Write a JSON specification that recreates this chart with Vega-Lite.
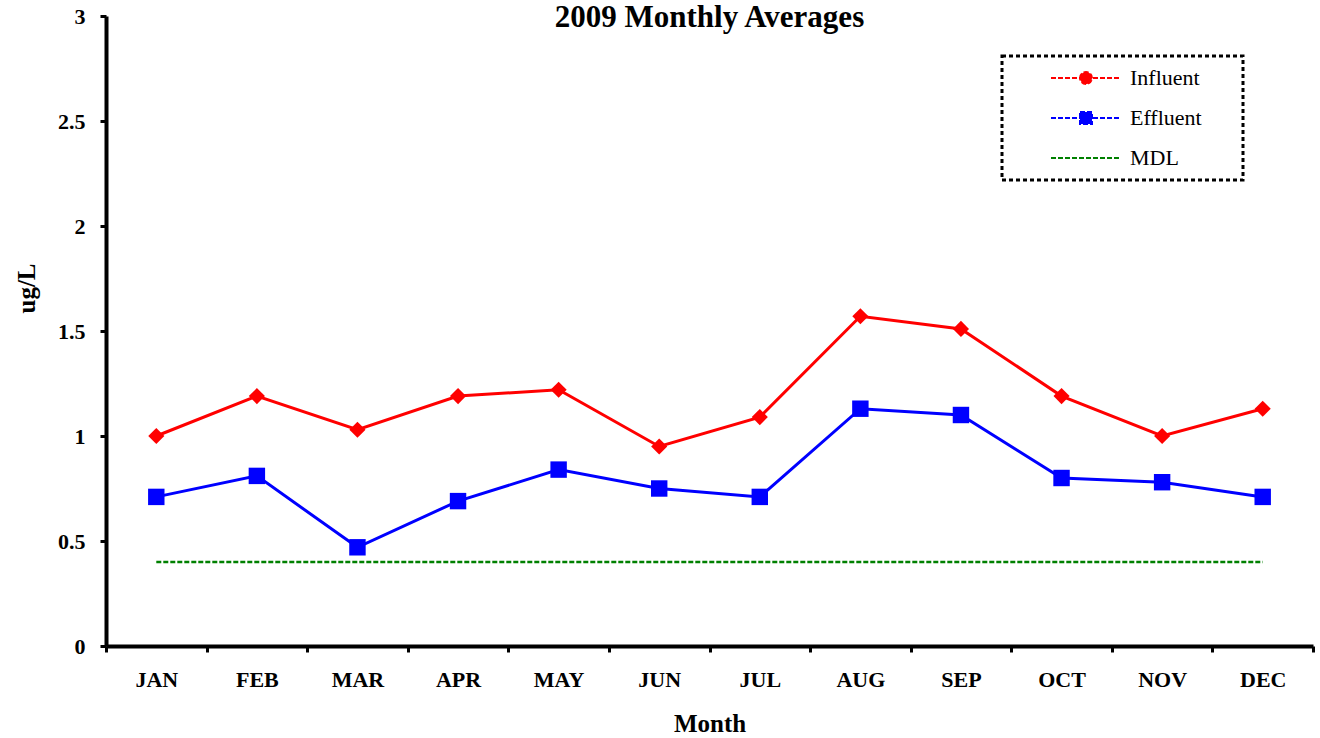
{
  "$schema": "https://vega.github.io/schema/vega-lite/v6.json",
  "autosize": "none",
  "width": 1207,
  "height": 630,
  "padding": {"left": 106, "top": 16, "right": 7, "bottom": 92},
  "background": "white",
  "config": {
    "view": {"stroke": null},
    "font": "Liberation Serif"
  },
  "title": {
    "text": "2009 Monthly Averages",
    "font": "Liberation Serif",
    "fontSize": 31,
    "fontWeight": "bold",
    "color": "black",
    "anchor": "middle",
    "offset": -29
  },
  "data": {
    "values": [
      {"month": "JAN", "series": "Influent", "value": 1.0},
      {"month": "FEB", "series": "Influent", "value": 1.19},
      {"month": "MAR", "series": "Influent", "value": 1.03},
      {"month": "APR", "series": "Influent", "value": 1.19},
      {"month": "MAY", "series": "Influent", "value": 1.22},
      {"month": "JUN", "series": "Influent", "value": 0.95},
      {"month": "JUL", "series": "Influent", "value": 1.09},
      {"month": "AUG", "series": "Influent", "value": 1.57},
      {"month": "SEP", "series": "Influent", "value": 1.51},
      {"month": "OCT", "series": "Influent", "value": 1.19},
      {"month": "NOV", "series": "Influent", "value": 1.0},
      {"month": "DEC", "series": "Influent", "value": 1.13},
      {"month": "JAN", "series": "Effluent", "value": 0.71},
      {"month": "FEB", "series": "Effluent", "value": 0.81},
      {"month": "MAR", "series": "Effluent", "value": 0.47},
      {"month": "APR", "series": "Effluent", "value": 0.69},
      {"month": "MAY", "series": "Effluent", "value": 0.84},
      {"month": "JUN", "series": "Effluent", "value": 0.75},
      {"month": "JUL", "series": "Effluent", "value": 0.71},
      {"month": "AUG", "series": "Effluent", "value": 1.13},
      {"month": "SEP", "series": "Effluent", "value": 1.10},
      {"month": "OCT", "series": "Effluent", "value": 0.80},
      {"month": "NOV", "series": "Effluent", "value": 0.78},
      {"month": "DEC", "series": "Effluent", "value": 0.71},
      {"month": "JAN", "series": "MDL", "value": 0.4},
      {"month": "FEB", "series": "MDL", "value": 0.4},
      {"month": "MAR", "series": "MDL", "value": 0.4},
      {"month": "APR", "series": "MDL", "value": 0.4},
      {"month": "MAY", "series": "MDL", "value": 0.4},
      {"month": "JUN", "series": "MDL", "value": 0.4},
      {"month": "JUL", "series": "MDL", "value": 0.4},
      {"month": "AUG", "series": "MDL", "value": 0.4},
      {"month": "SEP", "series": "MDL", "value": 0.4},
      {"month": "OCT", "series": "MDL", "value": 0.4},
      {"month": "NOV", "series": "MDL", "value": 0.4},
      {"month": "DEC", "series": "MDL", "value": 0.4}
    ]
  },
  "encoding": {
    "x": {
      "field": "month",
      "type": "nominal",
      "sort": ["JAN","FEB","MAR","APR","MAY","JUN","JUL","AUG","SEP","OCT","NOV","DEC"],
      "scale": {"paddingInner": 0, "paddingOuter": 0},
      "axis": {
        "title": "Month",
        "titleFont": "Liberation Serif",
        "titleFontSize": 25,
        "titleFontWeight": "bold",
        "titleColor": "black",
        "titleBaseline": "middle",
        "titleY": 77,
        "labelAngle": 0,
        "labelFont": "Liberation Serif",
        "labelFontSize": 22,
        "labelFontWeight": "bold",
        "labelColor": "black",
        "labelPadding": 27,
        "labelBaseline": "middle",
        "tickBand": "extent",
        "tickSize": 6,
        "tickWidth": 3,
        "tickColor": "black",
        "domainColor": "black",
        "domainWidth": 4,
        "grid": false
      }
    },
    "y": {
      "field": "value",
      "type": "quantitative",
      "scale": {"domain": [0, 3], "nice": false},
      "axis": {
        "title": "ug/L",
        "titleFont": "Liberation Serif",
        "titleFontSize": 25,
        "titleFontWeight": "bold",
        "titleColor": "black",
        "titleX": -80,
        "titleY": 272,
        "titleBaseline": "middle",
        "values": [0, 0.5, 1, 1.5, 2, 2.5, 3],
        "labelExpr": "toString(datum.value)",
        "labelFont": "Liberation Serif",
        "labelFontSize": 22,
        "labelFontWeight": "bold",
        "labelColor": "black",
        "labelPadding": 15,
        "tickSize": 6,
        "tickWidth": 3,
        "tickColor": "black",
        "domainColor": "black",
        "domainWidth": 4,
        "grid": false
      }
    }
  },
  "layer": [
    {
      "transform": [{"filter": "datum.series !== 'MDL'"}],
      "mark": {"type": "line", "strokeWidth": 3},
      "encoding": {
        "color": {
          "field": "series",
          "type": "nominal",
          "scale": {"domain": ["Influent", "Effluent", "MDL"], "range": ["#ff0000", "#0000ff", "#008000"]},
          "legend": {
            "title": null,
            "orient": "none",
            "legendX": 896,
            "legendY": 40,
            "strokeColor": "black",
            "fillColor": "white",
            "padding": 11,
            "rowPadding": 18,
            "symbolOffset": 62,
            "symbolSize": 400,
            "symbolStrokeWidth": 2,
            "symbolDash": [5, 2],
            "labelOffset": 33,
            "labelFont": "Liberation Serif",
            "labelFontSize": 22,
            "labelColor": "black",
            "encode": {
              "legend": {
                "update": {
                  "strokeDash": {"value": [4, 3]},
                  "strokeWidth": {"value": 3}
                }
              },
              "symbols": {
                "update": {
                  "shape": {"signal": "datum.value === 'MDL' ? 'M-3.5,0H3.5M14.2,0' : datum.value === 'Effluent' ? 'M-3.5,0H3.5M-0.6,-0.6H0.6V0.6H-0.6ZM14.2,0' : 'M-3.5,0H3.5M-0.6,0A0.6,0.6 0 1,1 0.6,0A0.6,0.6 0 1,1 -0.6,0ZM14.2,0'"},
                  "fill": {"signal": "scale('color', datum.value)"},
                  "stroke": {"signal": "scale('color', datum.value)"}
                }
              }
            }
          }
        }
      }
    },
    {
      "transform": [{"filter": "datum.series === 'MDL'"}],
      "mark": {"type": "line", "strokeWidth": 2.5, "strokeDash": [5, 2]},
      "encoding": {
        "color": {"field": "series", "type": "nominal"}
      }
    },
    {
      "transform": [{"filter": "datum.series === 'Influent'"}],
      "mark": {"type": "point", "filled": true, "opacity": 1, "shape": "diamond", "size": 260},
      "encoding": {
        "color": {"field": "series", "type": "nominal"}
      }
    },
    {
      "transform": [{"filter": "datum.series === 'Effluent'"}],
      "mark": {"type": "point", "filled": true, "opacity": 1, "shape": "square", "size": 270},
      "encoding": {
        "color": {"field": "series", "type": "nominal"}
      }
    }
  ]
}
